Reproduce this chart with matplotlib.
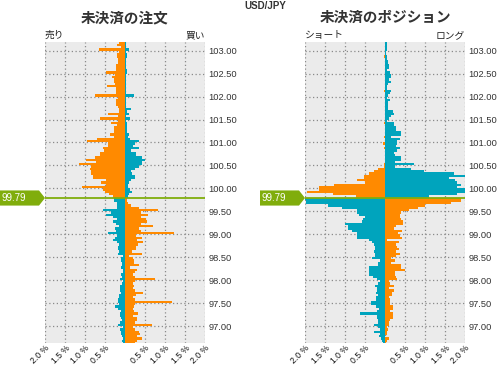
import numpy as np
import matplotlib
matplotlib.use("Agg")
import matplotlib.pyplot as plt
from matplotlib.patches import Polygon
from matplotlib.transforms import blended_transform_factory

# price buckets (lower edge), top to bottom, 0.05 wide
levels = np.round(103.15 - 0.05 * np.arange(132), 2)
price = 99.79

# open orders (%): left side = sell, right side = buy
order_sell = [
    0.14, 0.19, 0.10, 0.64, 0.14, 0.19, 0.19, 0.17, 0.17, 0.17,
    0.22, 0.22, 0.22, 0.47, 0.24, 0.32, 0.28, 0.28, 0.24, 0.44,
    0.22, 0.22, 0.22, 0.74, 0.17, 0.22, 0.22, 0.22, 0.17, 0.14,
    0.14, 0.42, 0.17, 0.62, 0.17, 0.34, 0.19, 0.27, 0.27, 0.27,
    0.37, 0.27, 0.69, 0.94, 0.42, 0.42, 0.54, 0.52, 0.62, 0.62,
    0.75, 0.97, 0.72, 1.14, 0.84, 0.87, 0.84, 0.84, 0.79, 0.79,
    0.47, 0.59, 0.47, 1.07, 0.54, 0.49, 0.40, 0.29, 0.27, 0.27,
    0.19, 0.19, 0.19, 0.54, 0.34, 0.47, 0.29, 0.19, 0.29, 0.22,
    0.14, 0.24, 0.22, 0.42, 0.19, 0.24, 0.29, 0.19, 0.14, 0.17,
    0.17, 0.14, 0.17, 0.04, 0.09, 0.09, 0.07, 0.07, 0.09, 0.04,
    0.04, 0.10, 0.08, 0.12, 0.04, 0.07, 0.12, 0.12, 0.12, 0.09,
    0.14, 0.14, 0.17, 0.17, 0.14, 0.24, 0.17, 0.09, 0.12, 0.12,
    0.09, 0.07, 0.12, 0.17, 0.04, 0.12, 0.10, 0.10, 0.07, 0.05,
    0.08, 0.05]
order_buy = [
    0.02, 0.02, 0.03, 0.11, 0.03, 0.05, 0.05, 0.03, 0.03, 0.03,
    0.03, 0.03, 0.05, 0.05, 0.02, 0.02, 0.02, 0.02, 0.03, 0.02,
    0.02, 0.03, 0.03, 0.23, 0.02, 0.03, 0.03, 0.03, 0.02, 0.15,
    0.05, 0.11, 0.03, 0.13, 0.03, 0.05, 0.05, 0.05, 0.05, 0.05,
    0.11, 0.08, 0.13, 0.36, 0.26, 0.21, 0.36, 0.16, 0.28, 0.28,
    0.43, 0.51, 0.43, 0.43, 0.36, 0.26, 0.16, 0.18, 0.26, 0.26,
    0.16, 0.11, 0.08, 0.08, 0.13, 0.18, 0.10, 0.08, 0.06, 0.06,
    0.08, 0.16, 0.36, 0.83, 0.41, 0.58, 0.41, 0.53, 0.56, 0.41,
    0.71, 0.36, 0.40, 1.23, 0.28, 0.43, 0.31, 0.46, 0.33, 0.28,
    0.28, 0.18, 0.43, 0.11, 0.21, 0.23, 0.23, 0.36, 0.13, 0.31,
    0.26, 0.20, 0.25, 0.76, 0.26, 0.21, 0.23, 0.21, 0.26, 0.46,
    0.28, 0.21, 0.26, 1.18, 0.26, 0.23, 0.21, 0.23, 0.33, 0.21,
    0.31, 0.31, 0.25, 0.68, 0.21, 0.25, 0.35, 0.37, 0.30, 0.43,
    0.30, 0.25]

# open positions (%): left side = short, right side = long
pos_short = [
    0, 0, 0, 0, 0, 0, 0.03, 0, 0, 0,
    0, 0, 0, 0, 0, 0, 0, 0, 0, 0,
    0, 0.03, 0, 0, 0, 0, 0, 0, 0, 0,
    0, 0, 0, 0, 0, 0.03, 0, 0, 0, 0,
    0, 0.03, 0, 0, 0.05, 0, 0.03, 0, 0, 0,
    0, 0, 0, 0.03, 0.03, 0.175, 0.275, 0.4, 0.525, 0.525,
    0.7, 0.49, 1.275, 1.65, 1.65, 1.96, 1.3, 0.725, 2.1, 1.98,
    1.98, 1.425, 1.075, 0.7, 0.7, 0.65, 0.5, 0.55, 0.575, 1.0,
    0.925, 0.925, 0.825, 0.7, 0.7, 0.7, 0.4, 0.325, 0.275, 0.26,
    0.25, 0.275, 0.25, 0.25, 0.325, 0.125, 0.175, 0.175, 0.4, 0.4,
    0.4, 0.4, 0.3, 0.2, 0.125, 0.175, 0.25, 0.2, 0.2, 0.225,
    0.175, 0.225, 0.225, 0.35, 0.35, 0.225, 0.15, 0.2, 0.625, 0.2,
    0.2, 0.175, 0.175, 0.275, 0.175, 0.125, 0.275, 0.125, 0.15, 0.1,
    0.08, 0.05]
pos_long = [
    0.05, 0.05, 0.04, 0.05, 0.03, 0.03, 0.05, 0.05, 0.07, 0.07,
    0.1, 0.1, 0.05, 0.125, 0.15, 0.15, 0.1, 0.15, 0.075, 0.05,
    0.05, 0.15, 0.125, 0.075, 0.05, 0.125, 0.075, 0.075, 0.075, 0.075,
    0.2, 0.225, 0.15, 0.1, 0.05, 0.225, 0.225, 0.275, 0.275, 0.4,
    0.4, 0.15, 0.375, 0.3, 0.3, 0.275, 0.375, 0.3, 0.225, 0.25,
    0.4, 0.4, 0.25, 0.725, 0.25, 0.65, 0.975, 1.725, 2.1, 1.6,
    1.75, 1.8, 1.9, 1.8, 2.1, 2.1, 1.8, 1.1, 1.9, 1.9,
    1.65, 1.0, 0.825, 0.6, 0.4, 0.375, 0.375, 0.4, 0.45, 0.45,
    0.275, 0.225, 0.425, 0.325, 0.375, 0.425, 0.05, 0.35, 0.275, 0.3,
    0.35, 0.275, 0.375, 0.275, 0.15, 0.25, 0.15, 0.4, 0.4, 0.5,
    0.25, 0.25, 0.28, 0.3, 0.1, 0.125, 0.225, 0.1, 0.225, 0.175,
    0.175, 0.1, 0.125, 0.125, 0.125, 0.2, 0.2, 0.125, 0.2, 0.2,
    0.2, 0.125, 0.1, 0.1, 0.05, 0.075, 0.05, 0.05, 0.0, 0.1,
    0.05, 0.03]

xticks = [-2.0, -1.5, -1.0, -0.5, 0.0, 0.5, 1.0, 1.5, 2.0]
xlabels = ["2.0 %", "1.5 %", "1.0 %", "0.5 %", "", "0.5 %", "1.0 %", "1.5 %", "2.0 %"]
yticks = [97.0, 97.5, 98.0, 98.5, 99.0, 99.5, 100.0, 100.5, 101.0, 101.5, 102.0, 102.5, 103.0]

ORANGE = "#ff8a00"
TEAL = "#00a4bd"
GREEN = "#80ad0c"
BG = "#ebebeb"
JP = ["Noto Sans CJK JP", "DejaVu Sans"]
NUM = "Liberation Sans"

fig = plt.figure(figsize=(4.97, 3.65), dpi=100)
W, H = 497.0, 365.0


def panel(x0, left_vals, right_vals, title, left_txt, right_txt):
    ax = fig.add_axes([x0 / W, 22 / H, 160 / W, 301 / H])
    ax.set_facecolor(BG)
    lv = np.array(left_vals)
    rv = np.array(right_vals)
    above = (levels + 0.025) > price
    ax.barh(levels, -lv, height=0.05, align="edge", linewidth=0,
            color=np.where(above, ORANGE, TEAL), zorder=3)
    ax.barh(levels, rv, height=0.05, align="edge", linewidth=0,
            color=np.where(above, TEAL, ORANGE), zorder=3)
    ax.set_xlim(-2, 2)
    ax.set_ylim(96.63, 103.19)
    ax.set_xticks(xticks)
    ax.set_xticklabels(xlabels, rotation=45, ha="right", va="top",
                       rotation_mode="anchor", fontsize=6.2, family=NUM,
                       color="#111111")
    ax.set_yticks(yticks)
    ax.set_yticklabels(["%.2f" % v for v in yticks], fontsize=6.7, family=NUM, color="#333333")
    ax.yaxis.tick_right()
    ax.tick_params(length=0)
    ax.tick_params(axis="y", pad=2.5)
    ax.tick_params(axis="x", pad=0.5)
    ax.grid(True, linestyle=(0, (1, 2)), color="#8a8a8a", linewidth=0.9, zorder=1)
    ax.set_axisbelow(True)
    for s in ax.spines.values():
        s.set_visible(False)

    # current price line + flag
    ax.axhline(price, color=GREEN, linewidth=1.3, zorder=5)
    trans = blended_transform_factory(fig.transFigure, ax.transData)
    fx0 = (x0 - 45) / W
    fx1 = (x0 - 6) / W
    fx2 = x0 / W
    hh = 0.165
    flag = Polygon([(fx0, price - hh), (fx1, price - hh), (fx2, price),
                    (fx1, price + hh), (fx0, price + hh)],
                   closed=True, transform=trans, clip_on=False,
                   facecolor=GREEN, edgecolor="none", zorder=6)
    ax.add_patch(flag)
    ax.text(fx0 + 2 / W, price, "%.2f" % price, transform=trans, color="white",
            fontsize=7, family=NUM, ha="left", va="center", zorder=7)

    fig.text((x0 + 80) / W, 1 - 17 / H, title, ha="center", va="center",
             fontsize=10.5, fontweight="bold", family=JP, color="#333333")
    fig.text(x0 / W, 1 - 35 / H, left_txt, ha="left", va="center",
             fontsize=7, family=JP, color="#222222")
    fig.text((x0 + 160) / W, 1 - 35 / H, right_txt, ha="right", va="center",
             fontsize=7, family=JP, color="#222222")
    return ax


panel(45, order_sell, order_buy, "未決済の注文", "売り", "買い")
panel(305, pos_short, pos_long, "未決済のポジション", "ショート", "ロング")

fig.text(265 / W, 1 - 6 / H, "USD/JPY", ha="center", va="center",
         fontsize=7, fontweight="bold", family=NUM, color="#333333")

fig.savefig("out.png", dpi=100)
